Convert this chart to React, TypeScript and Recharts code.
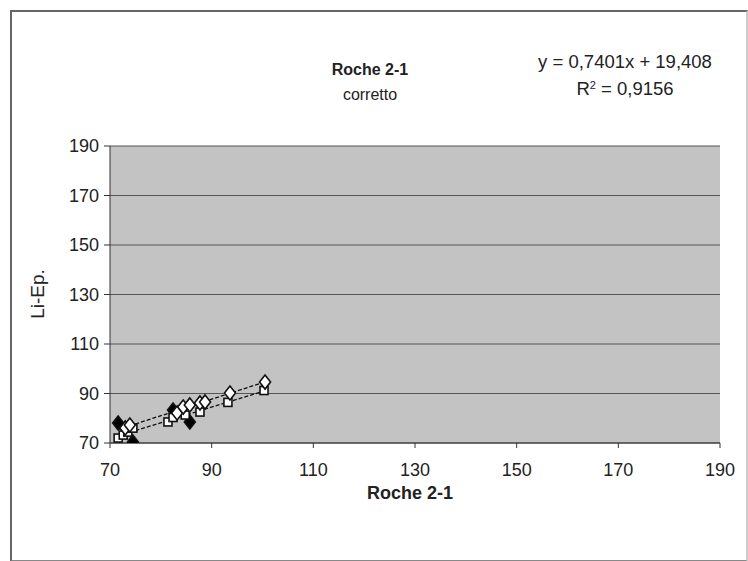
import { CartesianGrid, Scatter, ScatterChart, XAxis, YAxis } from 'recharts'

const TICKS = [70, 90, 110, 130, 150, 170, 190]

// black filled diamonds
const blackX = [71.6, 74.5, 82.4, 85.7]
const blackY = [78.1, 70.4, 83.3, 78.5]

// open diamonds (upper trend)
const openX = [73.0, 73.9, 83.2, 84.4, 85.7, 87.7, 88.7, 93.6, 100.5]
const openY = [76.1, 77.3, 82.1, 84.5, 85.4, 86.2, 86.6, 90.2, 94.6]

// open squares (lower trend)
const squareX = [71.6, 72.6, 73.5, 74.5, 81.4, 82.4, 84.8, 87.7, 93.2, 100.3]
const squareY = [72.0, 73.2, 74.4, 76.0, 78.5, 80.3, 81.3, 82.5, 86.4, 91.2]

const toPoints = (xs: number[], ys: number[]) => xs.map((x, i) => ({ x, y: ys[i] }))

const allX = [...blackX, ...openX, ...squareX]
const xMin = Math.min(...allX)
const xMax = Math.max(...allX)

function trend(xs: number[], ys: number[]) {
  const n = xs.length
  const mx = xs.reduce((a, b) => a + b, 0) / n
  const my = ys.reduce((a, b) => a + b, 0) / n
  let num = 0
  let den = 0
  xs.forEach((x, i) => {
    num += (x - mx) * (ys[i] - my)
    den += (x - mx) * (x - mx)
  })
  const slope = num / den
  const icpt = my - slope * mx
  return [xMin, xMax].map((x) => ({ x, y: slope * x + icpt }))
}

const Diamond = (props: any) => {
  const { cx, cy, fill } = props
  if (cx == null || cy == null) return <g />
  return (
    <path
      d={`M${cx},${cy - 7} L${cx + 5.5},${cy} L${cx},${cy + 7} L${cx - 5.5},${cy} Z`}
      fill={fill}
      stroke="#111"
      strokeWidth={1.6}
    />
  )
}

const Square = (props: any) => {
  const { cx, cy } = props
  if (cx == null || cy == null) return <g />
  return <rect x={cx - 4} y={cy - 4} width={8} height={8} fill="#fff" stroke="#111" strokeWidth={1.6} />
}

const FONT = '"Liberation Sans", Arial, sans-serif'
const txt = { fontFamily: FONT, color: '#222' } as const

export default function App() {
  return (
    <div style={{ position: 'absolute', left: 0, top: 0, width: 748, height: 561, background: '#fff', overflow: 'hidden' }}>
      <div style={{ position: 'absolute', left: 10, top: 10, width: 734, height: 548, border: '2px solid #666', borderRightColor: '#ccc', borderBottomColor: '#888' }} />
      <ScatterChart width={748} height={561} margin={{ top: 146, right: 28, bottom: 88, left: 50 }} style={{ position: 'absolute', left: 0, top: 0 }}>
        <CartesianGrid vertical={false} fill="#c3c3c3" stroke="#555" strokeWidth={1.2} />
        <XAxis
          type="number"
          dataKey="x"
          domain={[70, 190]}
          ticks={TICKS}
          allowDataOverflow
          height={30}
          stroke="#333"
          tickSize={5}
          tickMargin={15}
          tick={{ fill: '#222', fontSize: 18, fontFamily: FONT }}
        />
        <YAxis
          type="number"
          dataKey="y"
          domain={[70, 190]}
          ticks={TICKS}
          allowDataOverflow
          width={60}
          stroke="#333"
          tickSize={6}
          tickMargin={5}
          tick={{ fill: '#222', fontSize: 18, fontFamily: FONT }}
        />
        <Scatter data={trend(openX, openY)} line={{ stroke: '#111', strokeWidth: 1.3, strokeDasharray: '4 2' }} shape={() => <g />} isAnimationActive={false} />
        <Scatter data={trend(squareX, squareY)} line={{ stroke: '#111', strokeWidth: 1.3, strokeDasharray: '4 2' }} shape={() => <g />} isAnimationActive={false} />
        <Scatter data={toPoints(blackX, blackY)} fill="#000" shape={Diamond} isAnimationActive={false} />
        <Scatter data={toPoints(squareX, squareY)} shape={Square} isAnimationActive={false} />
        <Scatter data={toPoints(openX, openY)} fill="#fff" shape={Diamond} isAnimationActive={false} />
      </ScatterChart>
      <div style={{ ...txt, position: 'absolute', left: 270, top: 60, width: 200, textAlign: 'center', fontSize: 16, fontWeight: 'bold', lineHeight: '20px' }}>
        Roche 2-1
      </div>
      <div style={{ ...txt, position: 'absolute', left: 270, top: 85, width: 200, textAlign: 'center', fontSize: 16, lineHeight: '20px' }}>
        corretto
      </div>
      <div style={{ ...txt, position: 'absolute', left: 505, top: 50, width: 240, textAlign: 'center', fontSize: 18.5, lineHeight: '24px' }}>
        y = 0,7401x + 19,408
      </div>
      <div style={{ ...txt, position: 'absolute', left: 505, top: 77, width: 240, textAlign: 'center', fontSize: 18.5, lineHeight: '24px' }}>
        R<sup style={{ fontSize: 11, verticalAlign: 'top', lineHeight: '16px' }}>2</sup> = 0,9156
      </div>
      <div style={{ ...txt, position: 'absolute', left: 310, top: 482, width: 200, textAlign: 'center', fontSize: 18, fontWeight: 'bold', lineHeight: '22px' }}>
        Roche 2-1
      </div>
      <div style={{ ...txt, position: 'absolute', left: -12, top: 283, width: 100, textAlign: 'center', fontSize: 19, lineHeight: '22px', transform: 'rotate(-90deg)' }}>
        Li-Ep.
      </div>
    </div>
  )
}
